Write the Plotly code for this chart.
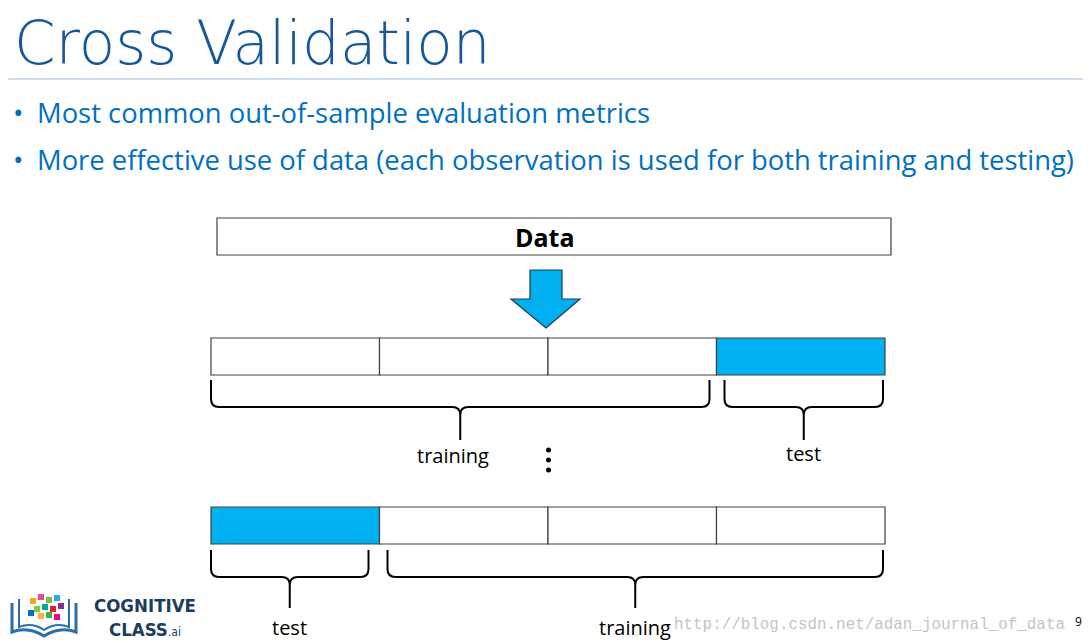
import plotly.graph_objects as go

# ---- content ----
title_text = "Cross Validation"
bullet_texts = [
    "Most common out-of-sample evaluation metrics",
    "More effective use of data (each observation is used for both training and testing)",
]
data_label = "Data"
n_folds = 4
test_fold = [3, 0]                      # index of the test fold in each row
row_labels = [["training", "test"], ["test", "training"]]
footer_url = "http://blog.csdn.net/adan_journal_of_data"
page_number = "9"
logo_words = ["COGNITIVE", "CLASS"]

# ---- layout constants (pixel space) ----
W, H = 1091, 643
OFF = 8  # page body margin
BLUE_FILL = "#00b0f0"
TEXT_BLUE = "#0070c0"
TITLE_BLUE = "#16569a"
row_x0, row_x1 = 211, 885
row_tops = [338, 507]
row_h = 37
brace_tops = [380, 550]
brace_mids = [407, 577]
brace_tips = [440, 608]
label_y = [455, 627]

fig = go.Figure()
shapes = []
ann = []

# title + rule
ann.append(dict(x=12, y=43, text=title_text, xanchor="left", yanchor="middle",
                font=dict(family="DejaVu Sans", size=59.6, color=TITLE_BLUE, weight=300), showarrow=False))
shapes.append(dict(type="line", x0=8, x1=W, y0=79, y1=79, line=dict(color="#9dbbe0", width=1)))

# bullets
for i, t in enumerate(bullet_texts):
    y = 112 + i * 47
    ann.append(dict(x=11, y=y, text="•", xanchor="left", yanchor="middle",
                    font=dict(family="Open Sans", size=28, color=TEXT_BLUE), showarrow=False))
    ann.append(dict(x=35, y=y, text=t, xanchor="left", yanchor="middle",
                    font=dict(family="Open Sans", size=27.4, color=TEXT_BLUE), showarrow=False))

# Data box
shapes.append(dict(type="rect", x0=217, x1=891, y0=218, y1=255,
                   line=dict(color="#404040", width=1.2), fillcolor="white"))
ann.append(dict(x=545, y=237, text="<b>" + data_label + "</b>", xanchor="center", yanchor="middle",
                font=dict(family="Open Sans", size=25, color="black"), showarrow=False))

# arrow
shapes.append(dict(type="path",
                   path="M 530,270 L 562,270 L 562,299 L 580,299 L 546,328 L 511,299 L 530,299 Z",
                   fillcolor=BLUE_FILL, line=dict(color="#1f3b5a", width=1.2)))

# rows of folds
fw = (row_x1 - row_x0) / n_folds
for r, top in enumerate(row_tops):
    for k in range(n_folds):
        x0 = row_x0 + k * fw
        shapes.append(dict(type="rect", x0=x0, x1=x0 + fw, y0=top, y1=top + row_h,
                           fillcolor=BLUE_FILL if k == test_fold[r] else "white",
                           line=dict(color="#404040", width=1.2)))


def brace(x0, x1, yt, ym, ytip):
    xc = (x0 + x1) / 2
    r = 8
    return (f"M {x0},{yt} L {x0},{ym-r} Q {x0},{ym} {x0+r},{ym} L {xc-r},{ym} "
            f"Q {xc},{ym} {xc},{ym+r} L {xc},{ytip} M {xc},{ym+r} Q {xc},{ym} {xc+r},{ym} "
            f"L {x1-r},{ym} Q {x1},{ym} {x1},{ym-r} L {x1},{yt}")


for r in range(len(row_tops)):
    t = test_fold[r]
    tx0 = row_x0 + t * fw
    tx1 = tx0 + fw
    if t == n_folds - 1:
        segs = [(row_x0, tx0 - 7), (tx0 + 8, tx1 - 2)]
    else:
        segs = [(row_x0, tx1 - 11), (tx1 + 8, row_x1 - 2)]
    for (a, b), lab in zip(segs, row_labels[r]):
        shapes.append(dict(type="path", path=brace(a, b, brace_tops[r], brace_mids[r], brace_tips[r]),
                           line=dict(color="black", width=2)))
        ann.append(dict(x=(a + b) / 2 - (7 if lab == "training" and r == 0 else 0),
                        y=label_y[r] - (2 if lab == "test" and r == 0 else 0),
                        text=lab, xanchor="center", yanchor="middle",
                        font=dict(family="Open Sans", size=20, color="black"), showarrow=False))

# vertical ellipsis
for yy in (450, 460, 470):
    shapes.append(dict(type="circle", x0=546, x1=551, y0=yy - 2.5, y1=yy + 2.5,
                       fillcolor="black", line=dict(width=0)))

# logo (simplified)
shapes.append(dict(type="path", path="M 12,603 L 12,632 Q 28,626 44,636 Q 60,626 76,632 L 76,603",
                   line=dict(color="#2a6ea8", width=3)))
shapes.append(dict(type="path", path="M 19,599 L 19,627 Q 32,622 44,630 Q 56,622 69,627 L 69,599",
                   line=dict(color="#2a6ea8", width=2)))
sq = [(30, 598, "#f4a623"), (38, 594, "#e94b8a"), (46, 597, "#7ac143"), (54, 595, "#29abe2"),
      (34, 606, "#8cc63f"), (42, 604, "#00a99d"), (50, 606, "#ed1c24"), (58, 603, "#92278f"),
      (38, 613, "#fbb03b"), (46, 612, "#39b54a"), (54, 614, "#ec008c"), (28, 610, "#0071bc")]
for (x, y, c) in sq:
    shapes.append(dict(type="rect", x0=x, x1=x + 6, y0=y, y1=y + 6, fillcolor=c, line=dict(width=0)))
ann.append(dict(x=145, y=617,
                text="<b>" + logo_words[0] + "</b><br><b>" + logo_words[1] + "</b><span style='font-size:12px'>.ai</span>",
                xanchor="center", yanchor="middle", align="center",
                font=dict(family="DejaVu Sans Condensed, Liberation Sans Narrow, Roboto", size=18.5, color="#1c3d5e"),
                showarrow=False))

# footer
ann.append(dict(x=672, y=625, text=footer_url, xanchor="left", yanchor="middle",
                font=dict(family="Liberation Mono", size=15.9, color="#c4c4c4"), showarrow=False))
ann.append(dict(x=1078, y=621, text=page_number, xanchor="center", yanchor="middle",
                font=dict(family="Open Sans", size=12, color="black"), showarrow=False))

fig.update_layout(
    width=W, height=H, margin=dict(l=0, r=0, t=0, b=0),
    paper_bgcolor="white", plot_bgcolor="white",
    xaxis=dict(range=[OFF, W + OFF], visible=False, fixedrange=True),
    yaxis=dict(range=[H + OFF, OFF], visible=False, fixedrange=True),
    shapes=shapes, annotations=ann, showlegend=False,
)
fig.write_html("out.html")
